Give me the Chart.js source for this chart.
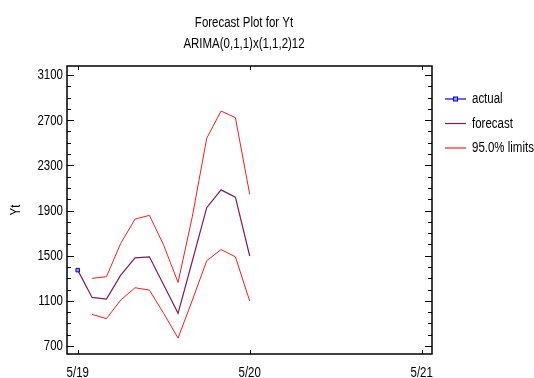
<!DOCTYPE html>
<html>
<head>
<meta charset="utf-8">
<script src="https://cdn.jsdelivr.net/npm/chart.js@4.4.1/dist/chart.umd.min.js"></script>
<style>
    body { margin: 0; background: #fff; }
    canvas { display: block; }
</style>
</head>
<body>
<canvas id="forecast-chart" width="534" height="378"></canvas>
<script>
// Months counted from 5/19
const forecastMonths = [0, 1, 2, 3, 4, 5, 6, 7, 8, 9, 10, 11, 12];
const actualMonths = [0];
const actualValues = [1372];
const forecastValues = [1372, 1130, 1115, 1328, 1481, 1490, 1240, 989, 1455, 1925, 2083, 2018, 1497];
const upperLimits = [null, 1299, 1313, 1609, 1824, 1857, 1592, 1263, 1850, 2540, 2781, 2723, 2044];
const lowerLimits = [null, 980, 942, 1107, 1216, 1195, 988, 770, 1107, 1455, 1554, 1490, 1098];

const yTickValues = [700, 1100, 1500, 1900, 2300, 2700, 3100];
const yMinorStep = 100;
const xTickValues = [0, 12, 24];
const xTickLabels = ['5/19', '5/20', '5/21'];

const titleText = 'Forecast Plot for Yt';
const subtitleText = 'ARIMA(0,1,1)x(1,1,2)12';
const yAxisTitle = 'Yt';

const FONT = '14px "Liberation Sans", Arial, sans-serif';
const NARROW = 0.82; // the original uses a condensed face

// draw horizontally condensed text
function narrowText(ctx, text, x, y, align, rotate) {
    ctx.save();
    ctx.translate(x, y);
    if (rotate) ctx.rotate(rotate);
    ctx.scale(NARROW, 1);
    ctx.textAlign = align;
    ctx.fillText(text, 0, 0);
    ctx.restore();
}

function toPoints(xs, ys) {
    return xs.map((x, i) => ({ x: x, y: ys[i] }));
}

// Frame, inward ticks, labels, titles and legend
const framePlugin = {
    id: 'frame',
    afterDraw(chart) {
        const ctx = chart.ctx;
        const a = chart.chartArea;
        const xs = chart.scales.x;
        const ys = chart.scales.y;
        ctx.save();

        ctx.strokeStyle = '#000';
        ctx.lineWidth = 1;
        ctx.beginPath();
        // y ticks, left and right, pointing inward
        for (let v = yTickValues[0]; v <= yTickValues[yTickValues.length - 1]; v += yMinorStep) {
            const y = Math.round(ys.getPixelForValue(v)) + 0.5;
            const major = yTickValues.includes(v);
            ctx.moveTo(a.left, y);
            ctx.lineTo(a.left + (major ? 7 : 4), y);
            ctx.moveTo(a.right, y);
            ctx.lineTo(a.right - (major ? 7 : 4), y);
        }
        // x ticks, top and bottom
        xTickValues.forEach(v => {
            const x = Math.round(xs.getPixelForValue(v)) + 0.5;
            ctx.moveTo(x, a.bottom);
            ctx.lineTo(x, a.bottom - 4);
            ctx.moveTo(x, a.top);
            ctx.lineTo(x, a.top + 4);
        });
        ctx.stroke();

        ctx.lineWidth = 1.5;
        ctx.strokeRect(a.left, a.top, a.right - a.left, a.bottom - a.top);

        ctx.fillStyle = '#000';
        ctx.font = FONT;

        // tick labels
        ctx.textBaseline = 'middle';
        yTickValues.forEach(v => {
            narrowText(ctx, String(v), a.left - 4, ys.getPixelForValue(v) + 0.5, 'right');
        });
        ctx.textBaseline = 'alphabetic';
        xTickValues.forEach((v, i) => {
            narrowText(ctx, xTickLabels[i], xs.getPixelForValue(v), 376.5, 'center');
        });

        // axis title
        ctx.textBaseline = 'middle';
        narrowText(ctx, yAxisTitle, 16, (a.top + a.bottom) / 2, 'center', -Math.PI / 2);

        // titles
        ctx.textBaseline = 'alphabetic';
        narrowText(ctx, titleText, 244, 26.5, 'center');
        narrowText(ctx, subtitleText, 244, 48, 'center');

        // legend
        const entries = [];
        chart.data.datasets.forEach(ds => {
            if (!entries.find(e => e.label === ds.label)) entries.push(ds);
        });
        ctx.textBaseline = 'middle';
        entries.forEach((ds, i) => {
            const y = 99 + i * 24.5;
            ctx.strokeStyle = ds.borderColor;
            ctx.lineWidth = 1.2;
            ctx.beginPath();
            ctx.moveTo(445, y);
            ctx.lineTo(466, y);
            ctx.stroke();
            if (ds.pointRadius > 0) {
                ctx.lineWidth = 1;
                ctx.fillStyle = ds.pointBackgroundColor;
                ctx.fillRect(453.5, y - 2, 4, 4);
                ctx.strokeRect(453.5, y - 2, 4, 4);
            }
            ctx.fillStyle = '#000';
            narrowText(ctx, ds.label, 472, y + 0.5, 'left');
        });

        ctx.restore();
    }
};

const ctx = document.getElementById('forecast-chart').getContext('2d');
new Chart(ctx, {
    type: 'line',
    data: {
        datasets: [
            {
                label: 'actual',
                data: toPoints(actualMonths, actualValues),
                borderColor: '#0000ff',
                borderWidth: 1,
                pointStyle: 'rect',
                pointRadius: 2.5,
                pointBorderWidth: 1,
                pointBorderColor: '#0000ff',
                pointBackgroundColor: '#9c9cff',
                order: 0
            },
            {
                label: 'forecast',
                data: toPoints(forecastMonths, forecastValues),
                borderColor: '#7e1c5c',
                borderWidth: 1.2,
                pointRadius: 0,
                tension: 0,
                order: 1
            },
            {
                label: '95.0% limits',
                data: toPoints(forecastMonths, upperLimits),
                borderColor: '#ff1a1a',
                borderWidth: 1,
                pointRadius: 0,
                tension: 0,
                order: 2
            },
            {
                label: '95.0% limits',
                data: toPoints(forecastMonths, lowerLimits),
                borderColor: '#ff1a1a',
                borderWidth: 1,
                pointRadius: 0,
                tension: 0,
                order: 2
            }
        ]
    },
    options: {
        responsive: false,
        animation: false,
        layout: { padding: { top: 66, right: 102, bottom: 0, left: 0 } },
        scales: {
            x: {
                type: 'linear',
                min: -0.75,
                max: 24.72,
                afterBuildTicks: scale => { scale.ticks = xTickValues.map(v => ({ value: v })); },
                afterFit: scale => { scale.height = 24; },
                grid: { display: false, drawTicks: false },
                border: { display: false },
                ticks: { display: false }
            },
            y: {
                min: 629,
                max: 3180,
                afterBuildTicks: scale => { scale.ticks = yTickValues.map(v => ({ value: v })); },
                afterFit: scale => { scale.width = 67; },
                grid: { display: false, drawTicks: false },
                border: { display: false },
                ticks: { display: false }
            }
        },
        plugins: {
            legend: { display: false },
            tooltip: { enabled: false }
        }
    },
    plugins: [framePlugin]
});
</script>
</body>
</html>
